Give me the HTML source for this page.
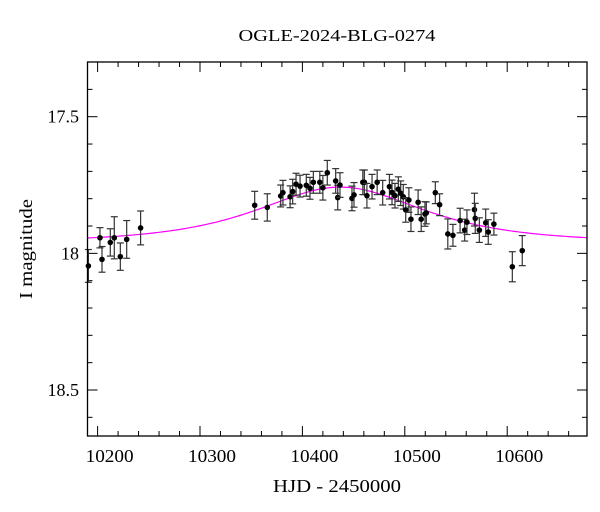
<!DOCTYPE html>
<html><head><meta charset="utf-8"><style>
body{margin:0;background:#fff;}
svg{display:block;font-family:"Liberation Serif",serif;}
</style></head><body>
<svg id="chart" width="600" height="512" viewBox="0 0 600 512" xmlns="http://www.w3.org/2000/svg">
<rect width="600" height="512" fill="#fff"/>
<text x="337" y="41" font-size="17" text-anchor="middle" textLength="197" lengthAdjust="spacingAndGlyphs">OGLE-2024-BLG-0274</text>
<text x="337" y="492" font-size="18" text-anchor="middle" textLength="128" lengthAdjust="spacingAndGlyphs">HJD - 2450000</text>
<text x="0" y="0" font-size="18" text-anchor="middle" transform="translate(32,249) rotate(-90)" textLength="100" lengthAdjust="spacingAndGlyphs">I magnitude</text>
<g id="axes"></g>
<g id="model"></g>
<g id="points"></g>
<rect x="87.5" y="62" width="499.5" height="374" fill="none" stroke="#000" stroke-width="1.3"/>
</svg>
<script>
const days = [10191,10202.3,10204.3,10212.4,10216.3,10222.2,10228.4,10242,10353.4,10365.7,10378.8,10381,10388,10390.5,10393.8,10397.7,10403.8,10407.4,10410.7,10417,10420,10424.3,10432.5,10434.5,10436.7,10448.4,10450.4,10459,10460.5,10463,10468,10473,10478.4,10485,10487.5,10490.4,10493.7,10496,10498.5,10500.9,10504,10506,10513,10516,10519.7,10521,10529.8,10534,10542,10547,10554,10558.5,10560.7,10568,10568.8,10572.8,10579,10581.5,10587,10605,10614.7];
const mags = [18.046,17.943,18.022,17.96,17.943,18.012,17.949,17.907,17.824,17.832,17.79,17.778,17.793,17.774,17.747,17.754,17.751,17.762,17.74,17.74,17.76,17.705,17.735,17.796,17.75,17.799,17.786,17.74,17.74,17.789,17.756,17.74,17.778,17.756,17.777,17.789,17.765,17.78,17.793,17.841,17.805,17.875,17.813,17.875,17.856,17.852,17.778,17.822,17.929,17.934,17.88,17.915,17.886,17.84,17.872,17.915,17.888,17.922,17.893,18.049,17.99];
const errs = [0.06,0.037,0.047,0.05,0.077,0.05,0.069,0.062,0.051,0.05,0.04,0.045,0.04,0.045,0.04,0.04,0.04,0.04,0.04,0.04,0.045,0.045,0.045,0.045,0.045,0.045,0.045,0.045,0.045,0.045,0.045,0.045,0.045,0.045,0.045,0.045,0.045,0.045,0.045,0.045,0.045,0.045,0.045,0.045,0.045,0.04,0.04,0.04,0.055,0.04,0.045,0.04,0.045,0.06,0.055,0.045,0.05,0.045,0.04,0.055,0.055];
const xTicks = [10200,10300,10400,10500,10600];
const yTicks = [17.5,18,18.5];
const model = {t0:10437, tE:100, u0:1.0, fs:0.6, base:17.96};
const NS='http://www.w3.org/2000/svg';
const X0=87.5,X1=587,Y0=62,Y1=436;
function xs(d){return 200+(d-10300)*1.024;}
function ys(m){return 116.7+(m-17.5)*273.3;}
function mk(tag,attrs,parent){const e=document.createElementNS(NS,tag);for(const k in attrs)e.setAttribute(k,attrs[k]);parent.appendChild(e);return e;}
const ax=document.getElementById('axes');
for(let d=10200;d<=10670;d+=20){
  const x=xs(d); const major=(d%100===0);
  const len=major?10:5;
  const t=mk('line',{x1:x,x2:x,y1:Y1,y2:Y1-len,stroke:'#000','stroke-width':1},ax);
  
  
  const t2=mk('line',{x1:x,x2:x,y1:Y0,y2:Y0+len,stroke:'#000','stroke-width':1},ax);
  
  
}
xTicks.forEach(v=>{
  const t=mk('text',{x:xs(v)+12,y:462,'font-size':18,'text-anchor':'middle',textLength:48,lengthAdjust:'spacingAndGlyphs'},ax);
  t.textContent=String(v);
  
  
});
for(let i=0;i<=13;i++){
  const m=17.4+i*0.1; const y=ys(m); if(y<Y0||y>Y1)continue;
  const major=Math.abs(Math.round(m*2)-m*2)<1e-6;
  const len=major?10:5;
  const t=mk('line',{x1:X0,x2:X0+len,y1:y,y2:y,stroke:'#000','stroke-width':1},ax);
  
  
  const t2=mk('line',{x1:X1,x2:X1-len,y1:y,y2:y,stroke:'#000','stroke-width':1},ax);
  
  
}
yTicks.forEach(v=>{
  const t=mk('text',{x:79,y:ys(v)+6,'font-size':18,'text-anchor':'end'},ax);
  t.textContent=String(v);
  
  
});
function modelMag(t){
  const tau=(t-model.t0)/model.tE; const u=Math.sqrt(model.u0*model.u0+tau*tau);
  const A=(u*u+2)/(u*Math.sqrt(u*u+4));
  return model.base-2.5*Math.log10(model.fs*A+1-model.fs);
}
let dpath='';
for(let t=10190;t<=10678;t+=2){dpath+=(dpath?'L':'M')+xs(t).toFixed(2)+','+ys(modelMag(t)).toFixed(2);}
const mc=mk('path',{d:dpath,fill:'none',stroke:'#ff00ff','stroke-width':1.2},document.getElementById('model'));


const pg=document.getElementById('points');
days.forEach((d,i)=>{
  const x=xs(d),y=ys(mags[i]),e=errs[i]*273.3;
  const g=mk('g',{},pg);
  
  
  mk('line',{x1:x,x2:x,y1:y-e,y2:y+e,stroke:'#333','stroke-width':1.2},g);
  mk('line',{x1:x-3.5,x2:x+3.5,y1:y-e,y2:y-e,stroke:'#333','stroke-width':1.2},g);
  mk('line',{x1:x-3.5,x2:x+3.5,y1:y+e,y2:y+e,stroke:'#333','stroke-width':1.2},g);
  mk('circle',{cx:x,cy:y,r:2.8,fill:'#000'},g);
});
</script>
</body></html>
